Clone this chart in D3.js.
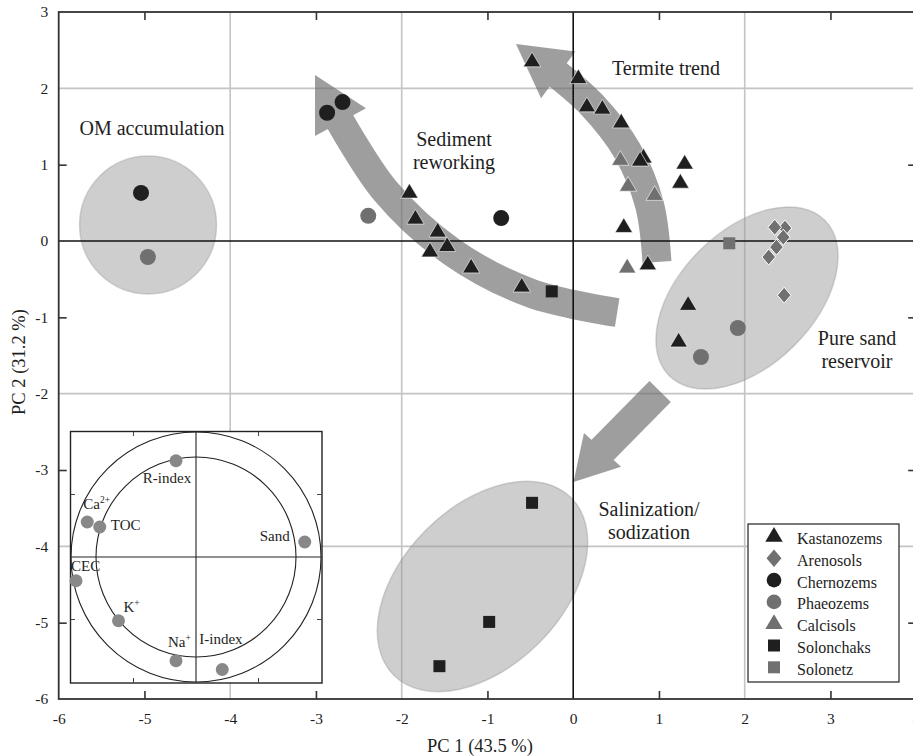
<!DOCTYPE html>
<html><head><meta charset="utf-8">
<script src="https://cdn.jsdelivr.net/npm/d3@7"></script>
<style>
body{margin:0;background:#fff}
svg{display:block}
text{font-family:"Liberation Serif","Times New Roman",serif;fill:#1e1e1e}
</style>
</head><body>
<svg id="c" width="913" height="756"></svg>
<script>
// ---------- data ----------
const xTicks=[-6,-5,-4,-3,-2,-1,0,1,2,3,4];
const yTicks=[3,2,1,0,-1,-2,-3,-4,-5,-6];
const xGrid=[-4,-2,2];
const yGrid=[2,-2,-4];
const xMinor=[-5,-3,-1,1,3];
const yMinor=[1,-1,-3,-5];

const soilGroups=["Kastanozems","Arenosols","Chernozems","Phaeozems","Calcisols","Solonchaks","Solonetz"];

const kastanozemsPC1=[0.82,-0.48,0.06,0.16,0.34,0.56,0.78,1.30,1.25,0.59,0.87,1.34,1.23,-1.91,-1.84,-1.58,-1.67,-1.47,-1.19,-0.60];
const kastanozemsPC2=[1.09,2.35,2.13,1.76,1.73,1.55,1.05,1.01,0.76,0.18,-0.31,-0.84,-1.32,0.63,0.29,0.12,-0.14,-0.07,-0.35,-0.60];
const arenosolsPC1=[2.47,2.45,2.35,2.37,2.28,2.46];
const arenosolsPC2=[0.17,0.05,0.18,-0.08,-0.21,-0.71];
const chernozemsPC1=[-5.04,-2.87,-2.69,-0.84];
const chernozemsPC2=[0.63,1.68,1.82,0.30];
const phaeozemsPC1=[-4.96,-2.39,1.92,1.49];
const phaeozemsPC2=[-0.21,0.33,-1.14,-1.52];
const calcisolsPC1=[0.55,0.64,0.95,0.63];
const calcisolsPC2=[1.06,0.72,0.60,-0.35];
const solonchaksPC1=[-0.25,-0.48,-0.98,-1.56];
const solonchaksPC2=[-0.66,-3.43,-4.99,-5.57];
const solonetzPC1=[1.82];
const solonetzPC2=[-0.03];

// inset loadings
const loadingVars=["R-index","Ca2+","TOC","Sand","CEC","K+","Na+","I-index"];
const loadingPC1=[-0.16,-0.87,-0.77,0.87,-0.96,-0.62,-0.16,0.21];
const loadingPC2=[0.77,0.28,0.24,0.12,-0.19,-0.51,-0.83,-0.90];

// annotation arrows (centerline in PC coordinates + tip)
const sedimentArrow=[[0.513,-0.937],[-0.489,-0.685],[-1.417,-0.141],[-2.189,0.654],[-2.722,1.575]];
const sedimentTip=[-3.011,2.175];
const termiteArrow=[[0.977,-0.275],[0.889,0.478],[0.631,1.179],[0.219,1.782],[-0.189,2.188]];
const termiteTip=[-0.667,2.581];
const salinArrow=[[1.014,-1.972],[0.330,-2.751]];
const salinTip=[0.0035,-3.157];

// ---------- layout / style ----------
const svg=d3.select("#c");
const x=d3.scaleLinear().domain([-6,4]).range([58.7,916.2]);
const y=d3.scaleLinear().domain([-6,3]).range([699,12]);
const BLACK="#1f1f1f", GRAY="#707070";

const styles={
  Kastanozems:{shape:"tri",fill:BLACK},
  Arenosols:{shape:"dia",fill:GRAY},
  Chernozems:{shape:"cir",fill:BLACK},
  Phaeozems:{shape:"cir",fill:GRAY},
  Calcisols:{shape:"tri",fill:GRAY},
  Solonchaks:{shape:"sq",fill:BLACK},
  Solonetz:{shape:"sq",fill:GRAY}
};
function shapePath(s,k){
  k=k||1;
  if(s==="tri"){const w=8.7*k,t=9.5*k,b=5.2*k;return `M0,${-t}L${w},${b}L${-w},${b}Z`;}
  if(s==="dia"){const w=6.8*k,h=8*k;return `M0,${-h}L${w},0L0,${h}L${-w},0Z`;}
  if(s==="sq"){const a=6*k;return `M${-a},${-a}H${a}V${a}H${-a}Z`;}
  const r=8*k;return `M${r},0A${r},${r} 0 1,1 ${-r},0A${r},${r} 0 1,1 ${r},0Z`;
}

// grid
const g=svg.append("g");
g.selectAll(".gx").data(xGrid).join("line").attr("x1",d=>x(d)).attr("x2",d=>x(d))
 .attr("y1",y(3)).attr("y2",y(-6)).attr("stroke","#c4c4c4").attr("stroke-width",1.6);
g.selectAll(".gy").data(yGrid).join("line").attr("y1",d=>y(d)).attr("y2",d=>y(d))
 .attr("x1",x(-6)).attr("x2",x(4)).attr("stroke","#c4c4c4").attr("stroke-width",1.6);

// ellipses
const ellipses=[
  {cx:-4.958,cy:0.21,rx:68.5,ry:69,rot:0},
  {cx:2.027,cy:-0.747,rx:110,ry:67,rot:-45},
  {cx:-1.058,cy:-4.526,rx:125.5,ry:80,rot:-45}
];
svg.append("g").selectAll("ellipse").data(ellipses).join("ellipse")
  .attr("transform",d=>`translate(${x(d.cx)},${y(d.cy)}) rotate(${d.rot})`)
  .attr("rx",d=>d.rx).attr("ry",d=>d.ry)
  .attr("fill","rgb(150,150,150)").attr("fill-opacity",0.47)
  .attr("stroke","rgb(140,140,140)").attr("stroke-opacity",0.35).attr("stroke-width",1.5);

// arrows
function drawArrow(pts,tip,bandW,headHW){
  const grp=svg.append("g").attr("opacity",0.64);
  const line=d3.line().x(d=>x(d[0])).y(d=>y(d[1])).curve(d3.curveCatmullRom.alpha(0.5));
  grp.append("path").attr("d",line(pts)).attr("fill","none")
     .attr("stroke","rgb(105,105,105)").attr("stroke-width",bandW).attr("stroke-linecap","butt");
  const B=[x(pts[pts.length-1][0]),y(pts[pts.length-1][1])];
  const T=[x(tip[0]),y(tip[1])];
  const dx=T[0]-B[0],dy=T[1]-B[1],L=Math.hypot(dx,dy);
  const nx=-dy/L,ny=dx/L;
  const bx=B[0]+dx/L*1.0,by=B[1]+dy/L*1.0;
  grp.append("path").attr("d",`M${T[0]},${T[1]}L${B[0]+nx*headHW-dx/L*1.5},${B[1]+ny*headHW-dy/L*1.5}L${B[0]-nx*headHW-dx/L*1.5},${B[1]-ny*headHW-dy/L*1.5}Z`)
     .attr("fill","rgb(105,105,105)");
}
drawArrow(sedimentArrow,sedimentTip,29,29);
drawArrow(termiteArrow,termiteTip,29,29);
drawArrow(salinArrow,salinTip,30,25);

// zero lines
svg.append("line").attr("x1",x(0)).attr("x2",x(0)).attr("y1",y(3)).attr("y2",y(-6)).attr("stroke","#111").attr("stroke-width",1.6);
svg.append("line").attr("y1",y(0)).attr("y2",y(0)).attr("x1",x(-6)).attr("x2",x(4)).attr("stroke","#111").attr("stroke-width",1.6);

// frame & axes
svg.append("rect").attr("x",x(-6)).attr("y",y(3)).attr("width",x(4)-x(-6)).attr("height",y(-6)-y(3))
  .attr("fill","none").attr("stroke","#333").attr("stroke-width",1.8);
function styleAxis(sel){sel.select(".domain").remove();sel.selectAll("line").attr("stroke","#333").attr("stroke-width",1.6);}
svg.append("g").attr("transform",`translate(0,${y(3)})`).call(d3.axisBottom(x).tickValues(xMinor).tickSize(8).tickFormat("")).call(styleAxis);
svg.append("g").attr("transform",`translate(0,${y(-6)})`).call(d3.axisTop(x).tickValues(xMinor).tickSize(8).tickFormat("")).call(styleAxis);
svg.append("g").attr("transform",`translate(${x(-6)},0)`).call(d3.axisRight(y).tickValues(yMinor).tickSize(8).tickFormat("")).call(styleAxis);
svg.append("g").attr("transform",`translate(${x(4)},0)`).call(d3.axisLeft(y).tickValues(yMinor).tickSize(8).tickFormat("")).call(styleAxis);

const xa=svg.append("g").attr("transform",`translate(0,${y(-6)})`)
  .call(d3.axisBottom(x).tickValues(xTicks).tickSize(0).tickPadding(14).tickFormat(d=>String(d)));
xa.select(".domain").remove();
xa.selectAll("text").attr("font-family","Liberation Serif").attr("font-size",15.5).attr("fill","#1e1e1e");
const ya=svg.append("g").attr("transform",`translate(${x(-6)},0)`)
  .call(d3.axisLeft(y).tickValues(yTicks).tickSize(0).tickPadding(10.5).tickFormat(d=>String(d)));
ya.select(".domain").remove();
ya.selectAll("text").attr("font-family","Liberation Serif").attr("font-size",15.5).attr("fill","#1e1e1e");

svg.append("text").attr("x",480).attr("y",752).attr("text-anchor","middle").attr("font-size",18.5).text("PC 1 (43.5 %)");
svg.append("text").attr("transform","translate(25,362) rotate(-90)").attr("text-anchor","middle").attr("font-size",18.5).text("PC 2 (31.2 %)");

// points
const series=[
  ["Kastanozems",kastanozemsPC1,kastanozemsPC2],
  ["Arenosols",arenosolsPC1,arenosolsPC2],
  ["Chernozems",chernozemsPC1,chernozemsPC2],
  ["Phaeozems",phaeozemsPC1,phaeozemsPC2],
  ["Calcisols",calcisolsPC1,calcisolsPC2],
  ["Solonchaks",solonchaksPC1,solonchaksPC2],
  ["Solonetz",solonetzPC1,solonetzPC2]
];
const pts=svg.append("g");
series.forEach(([name,xs,ys])=>{
  const st=styles[name];
  pts.selectAll(null).data(xs.map((v,i)=>[v,ys[i]])).join("path")
    .attr("transform",d=>`translate(${x(d[0])},${y(d[1])})`)
    .attr("d",shapePath(st.shape))
    .attr("fill",st.fill)
    .attr("stroke",st.shape==="dia"||st.shape==="tri"?"#fff":"none")
    .attr("stroke-width",st.shape==="dia"?1:0.6);
});

// annotation texts
const notes=[
  {t:["OM accumulation"],x:152,y:135},
  {t:["Sediment","reworking"],x:454,y:145.7},
  {t:["Termite trend"],x:666,y:75},
  {t:["Pure sand","reservoir"],x:857,y:345},
  {t:["Salinization/","sodization"],x:649,y:516}
];
notes.forEach(n=>{
  n.t.forEach((s,i)=>svg.append("text").attr("x",n.x).attr("y",n.y+i*23.3).attr("text-anchor","middle").attr("font-size",20).text(s));
});

// legend
const lg=svg.append("g");
lg.append("rect").attr("x",748).attr("y",524).attr("width",151).attr("height",158).attr("fill","#fff").attr("stroke","#222").attr("stroke-width",1.2);
soilGroups.forEach((name,i)=>{
  const cy=544+i*21.8;
  const st=styles[name];
  lg.append("path").attr("transform",`translate(774,${cy-7.5})`).attr("d",shapePath(st.shape,st.shape==="dia"?1.1:(st.shape==="cir"?0.92:1))).attr("fill",st.fill);
  lg.append("text").attr("x",797).attr("y",cy).attr("font-size",16).text(name);
});

// inset
const ix=d3.scaleLinear().domain([-1,1]).range([71,321]);
const iy=d3.scaleLinear().domain([-1,1]).range([682,432]);
const ins=svg.append("g");
ins.append("rect").attr("x",ix(-1)-0.5).attr("y",iy(1)-0.5).attr("width",ix(1)-ix(-1)+1.5).attr("height",iy(-1)-iy(1)+1.5)
  .attr("fill","#fff").attr("stroke","#222").attr("stroke-width",1.4);
const insTicks=[-0.5,0.5];
insTicks.forEach(t=>{
  ins.append("line").attr("x1",ix(t)).attr("x2",ix(t)).attr("y1",iy(-1)+1).attr("y2",iy(-1)-4).attr("stroke","#444");
  ins.append("line").attr("x1",ix(t)).attr("x2",ix(t)).attr("y1",iy(1)).attr("y2",iy(1)+4).attr("stroke","#444");
  ins.append("line").attr("y1",iy(t)).attr("y2",iy(t)).attr("x1",ix(1)+1).attr("x2",ix(1)-4).attr("stroke","#444");
  ins.append("line").attr("y1",iy(t)).attr("y2",iy(t)).attr("x1",ix(-1)).attr("x2",ix(-1)+4).attr("stroke","#444");
});
ins.append("line").attr("x1",ix(0)).attr("x2",ix(0)).attr("y1",iy(1)).attr("y2",iy(-1)).attr("stroke","#222").attr("stroke-width",1.1);
ins.append("line").attr("y1",iy(0)).attr("y2",iy(0)).attr("x1",ix(-1)).attr("x2",ix(1)).attr("stroke","#222").attr("stroke-width",1.1);
[1,0.8].forEach(r=>ins.append("circle").attr("cx",ix(0)).attr("cy",iy(0)).attr("r",ix(r)-ix(0)).attr("fill","none").attr("stroke","#222").attr("stroke-width",1.1));
ins.selectAll(".lp").data(loadingVars.map((v,i)=>({v,x:loadingPC1[i],y:loadingPC2[i]}))).join("circle")
  .attr("cx",d=>ix(d.x)).attr("cy",d=>iy(d.y)).attr("r",6.5).attr("fill","#888");
const labelPos={ "R-index":[-9,22,"middle"], "Ca2+":[-4,-13,"start"], "TOC":[11,3,"start"], "Sand":[-15,-1,"end"],
  "CEC":[-5,-10,"start"], "K+":[5,-9,"start"], "Na+":[-8,-14,"start"], "I-index":[-23,-26,"start"] };
loadingVars.forEach((v,i)=>{
  const [dx,dy,anc]=labelPos[v];
  const m=v.match(/^([A-Za-z]+)(\d?\+)$/);
  const t=ins.append("text").attr("x",ix(loadingPC1[i])+dx).attr("y",iy(loadingPC2[i])+dy).attr("text-anchor",anc).attr("font-size",15);
  if(m){t.append("tspan").text(m[1]);t.append("tspan").attr("font-size",9.5).attr("dy",-6).text(m[2]);}
  else t.text(v);
});
</script>
</body></html>
